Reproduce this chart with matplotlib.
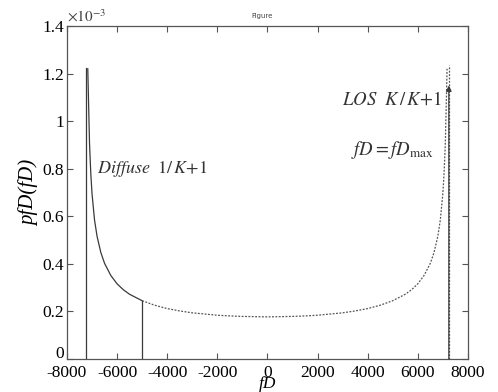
import matplotlib
matplotlib.use("Agg")
import matplotlib.pyplot as plt
import matplotlib.transforms as mtransforms
from matplotlib.ticker import FuncFormatter

plt.rcParams['font.family'] = ['Liberation Serif', 'DejaVu Serif']
plt.rcParams['mathtext.fontset'] = 'stix'

# Doppler pdf (values in units of 1e-3)
fd_diffuse = [-7170, -7150, -7100, -7050, -7000, -6900, -6800, -6650, -6500,
              -6250, -6000, -5750, -5500, -5000]
pdf_diffuse = [1.22, 1.13, 0.905, 0.78, 0.694, 0.584, 0.516, 0.448, 0.402,
               0.351, 0.316, 0.291, 0.272, 0.245]

fd_rest = [-5000, -4500, -4000, -3500, -3000, -2500, -2000, -1500, -1000, -500,
           0, 500, 1000, 1500, 2000, 2500, 3000, 3500, 4000, 4500, 5000,
           5500, 5750, 6000, 6250, 6500, 6650, 6800, 6900, 7000, 7050, 7100,
           7150, 7170]
pdf_rest = [0.245, 0.226, 0.212, 0.202, 0.194, 0.189, 0.184, 0.181, 0.179, 0.178,
            0.177, 0.178, 0.179, 0.181, 0.184, 0.189, 0.194, 0.202, 0.212, 0.226,
            0.245, 0.272, 0.291, 0.316, 0.351, 0.402, 0.448, 0.516, 0.584, 0.694,
            0.78, 0.905, 1.13, 1.22]

fd_max = 7240
fd_cut = -5000
left_peak = 1.225
los_top = 1.235
arrow_top = 1.15

xticks = [-8000, -6000, -4000, -2000, 0, 2000, 4000, 6000, 8000]
yticks = [0, 0.2, 0.4, 0.6, 0.8, 1.0, 1.2, 1.4]

lc = '#3a3a3a'

fig = plt.figure(figsize=(4.98, 3.92), dpi=100)
ax = fig.add_axes([0.1345, 0.0842, 0.805, 0.8495])

ax.plot(fd_diffuse, pdf_diffuse, color=lc, lw=0.9)
ax.plot(fd_rest, pdf_rest, color='#555555', lw=0.9, ls=(0, (1.5, 1.2)))
ax.plot([-fd_max, -fd_max], [0, left_peak], color=lc, lw=0.9)
ax.plot([fd_cut, fd_cut], [0, pdf_diffuse[-1]], color=lc, lw=0.9)
ax.plot([fd_max, fd_max], [0, los_top], color='#555555', lw=0.9, ls=(0, (1.5, 1.2)))
ax.annotate('', xy=(fd_max, arrow_top), xytext=(fd_max, 0),
            arrowprops=dict(arrowstyle='-|>', color=lc, lw=0.9,
                            mutation_scale=8, shrinkA=0, shrinkB=0))

ax.set_xlim(-8000, 8000)
ax.set_ylim(0, 1.4)
ax.set_xticks(xticks)
ax.set_yticks(yticks)
ax.xaxis.set_major_formatter(FuncFormatter(lambda v, p: '%g' % v))
ax.yaxis.set_major_formatter(FuncFormatter(lambda v, p: '%g' % v))
ax.tick_params(direction='in', top=True, right=True, labelsize=12.5,
               length=4, width=0.8, color='#555555')
ax.tick_params(axis='y', pad=2)
ax.tick_params(axis='x', pad=4)
for s in ax.spines.values():
    s.set_color('#555555')
    s.set_linewidth(0.9)

ax.set_xlabel('fD', fontsize=12.5, fontstyle='italic', va='bottom')
ax.xaxis.set_label_coords(0.5, -0.098)
ax.set_ylabel('pfD(fD)', fontsize=15, fontstyle='italic', labelpad=2)

ax.text(0.0, 1.005, r'$\times10^{-3}$', transform=ax.transAxes,
        fontsize=11, color='#444444', va='bottom', ha='left')
fig.text(0.527, 0.958, 'Figure', fontsize=5, family='DejaVu Sans',
         color='#444444', ha='center', va='center')

ax.text(-6800, 0.8, r'$Diffuse\ \ \mathrm{1/}\,K\mathrm{+1}$', fontsize=13,
        color='#333333', va='center')
ax.text(6950, 1.09, r'$LOS\ \ K\,\mathrm{/}\,K\mathrm{+1}$', fontsize=13.5,
        color='#333333', va='center', ha='right')
ax.text(6650, 0.88, r'$fD = fD_{\mathrm{max}}$', fontsize=13.5,
        color='#333333', va='center', ha='right')

# the "0" label on the y axis sits a little higher, as in the reference
fig.canvas.draw()
zero_lab = ax.yaxis.get_major_ticks()[0].label1
zero_lab.set_transform(zero_lab.get_transform() +
                       mtransforms.ScaledTranslation(0, 5 / 72, fig.dpi_scale_trans))

fig.savefig('out.png', dpi=100)
